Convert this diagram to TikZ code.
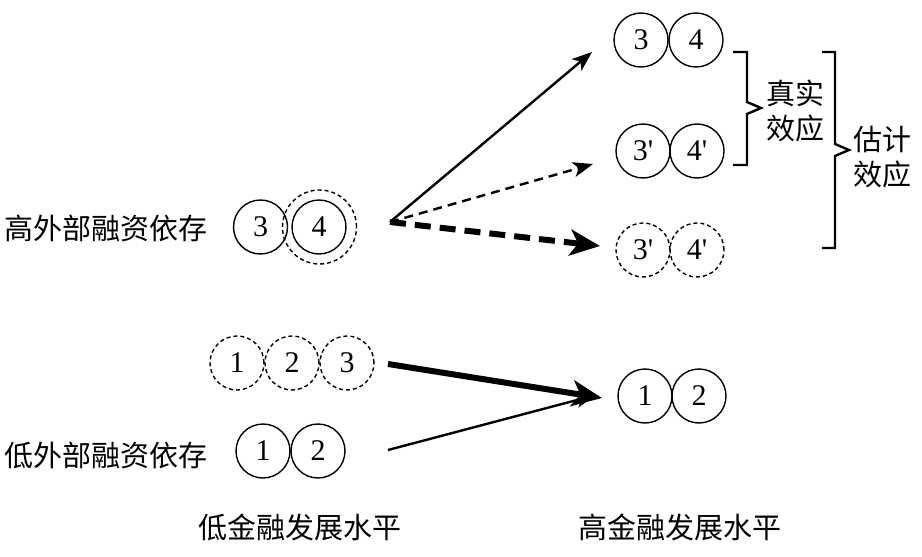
\documentclass[tikz,border=0pt]{standalone}
\usepackage{fontspec}
\setmainfont{Liberation Serif}
\newfontfamily\numfont[Ligatures=ResetAll]{Liberation Serif}
\newfontfamily\cjk{Noto Sans CJK SC}
\usetikzlibrary{arrows.meta}
\newcommand{\pr}{\char"0027\relax}
\begin{document}
\begin{tikzpicture}[x=1pt,y=-1pt,
  ball/.style={circle,draw,line width=1.4pt,minimum size=54pt,inner sep=0pt,font=\numfont\fontsize{30}{30}\selectfont},
  dball/.style={ball,dash pattern=on 4pt off 3pt},
  lab/.style={font=\cjk\fontsize{29}{35}\selectfont,align=left,inner sep=0pt},
  thin/.style={line width=2.4pt,-{Stealth[length=20pt,width=15pt,inset=5pt]}},
  thick/.style={line width=6pt,-{Stealth[length=30pt,width=26pt,inset=8pt]}},
  brace/.style={line width=2.4pt,line join=miter}]
\useasboundingbox (0,0) rectangle (922,557);
% left labels
\node[lab,anchor=west] (hi) at (4,228) {高外部融资依存};
\node[lab,anchor=west] (lo) at (4,455) {低外部融资依存};
\node[lab] (blow) at (300,527) {低金融发展水平};
\node[lab] (bhigh) at (680,527) {高金融发展水平};
% left high group
\node[ball] (L3) at (260.5,227) {3};
\node[ball] (L4) at (319,227) {4};
\node[dball,minimum size=74pt] (L4d) at (319.5,227) {};
% left low groups
\node[dball] (D1) at (237,363) {1};
\node[dball] (D2) at (292,363) {2};
\node[dball] (D3) at (347,363) {3};
\node[ball] (S1) at (263,451) {1};
\node[ball] (S2) at (318,451) {2};
% right
\node[ball] (R3) at (641,40) {3};
\node[ball] (R4) at (696,40) {4};
\node[ball] (M3) at (643,151) {3\pr};
\node[ball] (M4) at (697,151) {4\pr};
\node[dball] (B3) at (643,250) {3\pr};
\node[dball] (B4) at (697,250) {4\pr};
\node[ball] (E1) at (645,396) {1};
\node[ball] (E2) at (699,396) {2};
% arrows
\coordinate (o) at (390,222);
\coordinate (t1) at (592,52);
\coordinate (t2) at (593,164);
\coordinate (t3) at (600,246);
\coordinate (s1) at (388,364);
\coordinate (e1) at (602,398);
\coordinate (s2) at (388,450);
\coordinate (e2) at (596,395);
\draw[thin] (o) -- (t1);
\draw[thin,dash pattern=on 9pt off 6pt] (o) -- (t2);
\draw[thick,dash pattern=on 16pt off 9pt] (o) -- (t3);
\draw[thick] (s1) -- (e1);
\draw[thin] (s2) -- (e2);
% braces
\draw[brace] (733,52) -| (747,102) -- (761,108) -- (747,114) |- (733,165);
\draw[brace] (822,52) -| (835,144) -- (849,150) -- (835,156) |- (822,248);
\node[lab,anchor=west] (real) at (766,111) {真实\\效应};
\node[lab,anchor=west] (est) at (853,157) {估计\\效应};
\end{tikzpicture}
\end{document}
